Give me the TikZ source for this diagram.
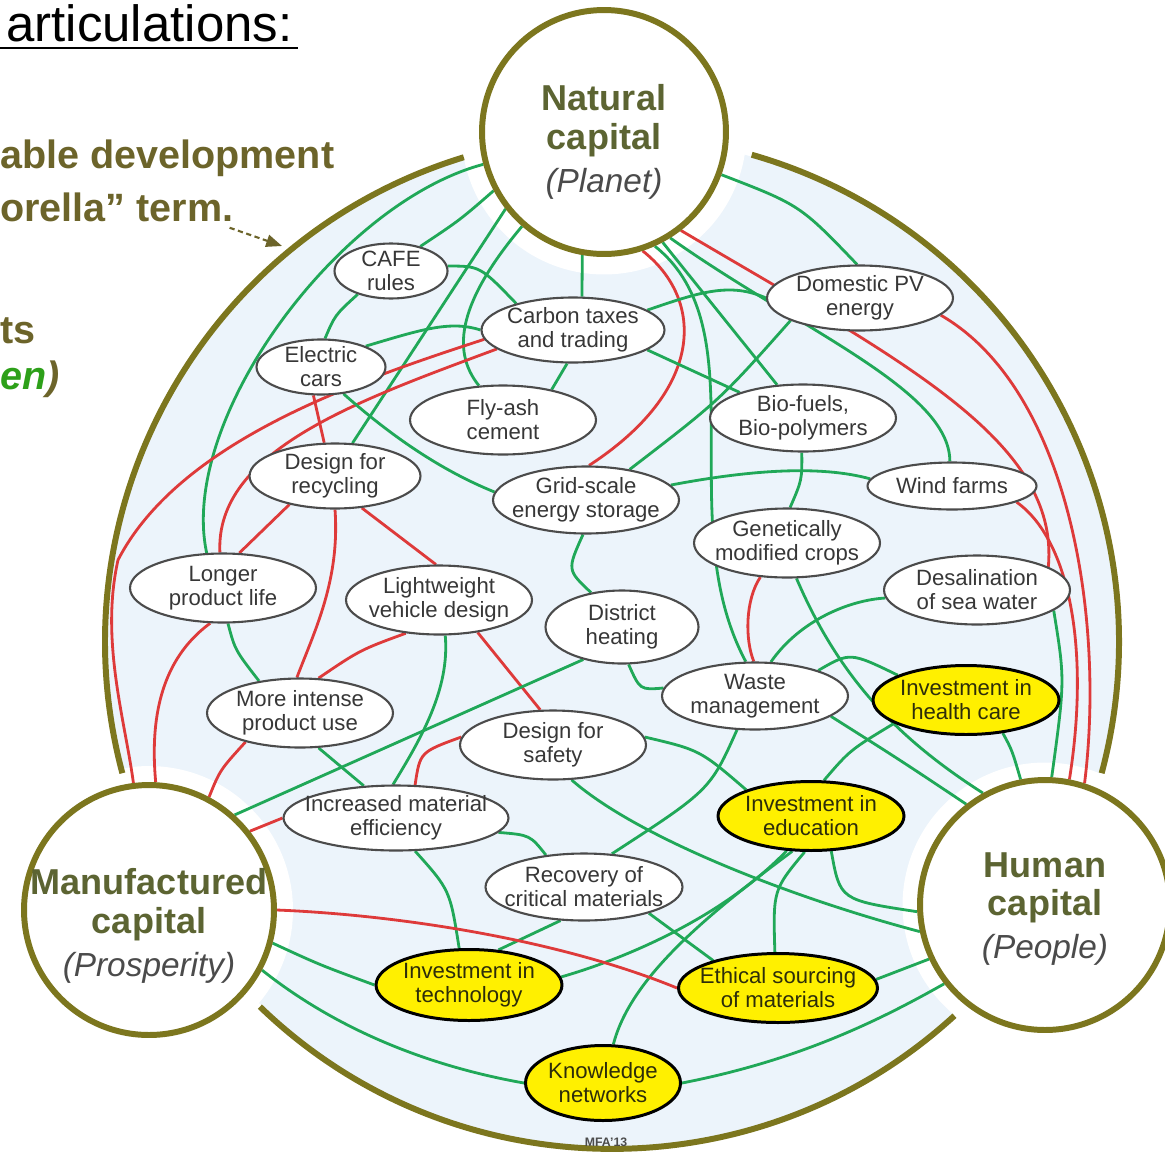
\documentclass[tikz,border=0pt]{standalone}
\usepackage{fontspec}
\setmainfont{Liberation Sans}
\usetikzlibrary{shapes.geometric,arrows.meta,calc}

\definecolor{ringolive}{RGB}{124,118,30}
\definecolor{captext}{RGB}{92,100,50}
\definecolor{subgray}{RGB}{75,75,75}
\definecolor{lgreen}{RGB}{32,168,88}
\definecolor{lred}{RGB}{222,58,58}
\definecolor{ellgray}{RGB}{75,75,75}
\definecolor{txtgray}{RGB}{55,55,55}
\definecolor{invyellow}{RGB}{255,240,0}
\definecolor{invtext}{RGB}{45,45,10}
\definecolor{bgblue}{RGB}{236,244,251}
\definecolor{headolive}{RGB}{108,100,42}
\definecolor{headgreen}{RGB}{45,160,25}

\pgfdeclarelayer{bg}
\pgfdeclarelayer{lines}
\pgfsetlayers{bg,lines,main}

\newcommand{\capsub}[1]{{\mdseries\itshape\fontsize{19}{21}\selectfont\color{subgray}#1}}

\begin{document}
\begin{tikzpicture}[x=0.02cm, y=-0.02cm,
		gl/.style={draw=lgreen, line width=1.6pt},
		rl/.style={draw=lred, line width=1.6pt},
		ell/.style={ellipse, draw=ellgray, line width=1.2pt, fill=white, inner sep=0pt, minimum width=3.72cm, minimum height=1.38cm},
		inv/.style={ell, draw=black, line width=1.7pt, fill=invyellow},
		lbl/.style={font=\fontsize{12.6}{13.6}\selectfont, text=txtgray, align=center, inner sep=0pt},
		ilbl/.style={lbl, text=invtext},
		capital/.style={circle, draw=ringolive, line width=3.4pt, fill=white, inner sep=0pt, minimum size=4.9cm},
		captxt/.style={font=\bfseries\fontsize{20.5}{22}\selectfont, text=captext, align=center, inner sep=0pt},
		ring/.style={draw=ringolive, line width=3.4pt},
		headline/.style={font=\bfseries\fontsize{22.5}{26}\selectfont, text=headolive, inner sep=0pt, anchor=base west},
		pointer/.style={draw=headolive, line width=1.2pt, dash pattern=on 3pt off 2pt, -{Triangle[length=9pt,width=7pt]}}]
	% \draw[very thin, gray, dashed](0,0)grid[step=50](1165,1156);
	\useasboundingbox (0,0) rectangle (1165,1156);

	\node[anchor=base west, inner sep=0pt, font=\fontsize{29}{32}\selectfont] (title) at (6,41) {articulations:};
	\draw[line width=1.2pt] (0,48)--(298,48);

	\node[headline] (sus) at (0,168) {able development};
	\node[headline] (umb) at (0,221) {orella” term.};
	\node[headline] (ts) at (0,343) {ts};
	\node[headline, font=\bfseries\itshape\fontsize{22.5}{26}\selectfont] (gr) at (0,389) {\textcolor{headgreen}{en})};
	\coordinate (arrtip) at (282,246);
	\draw[pointer] (umb.south east) ++(-4,6)--(arrtip);

	% the three capitals
	\node[capital, minimum size=4.88cm, label={[captxt, yshift=-0.2cm]center:{Natural\\capital\\[2.5pt]\capsub{(Planet)}}}] (nat) at (604,132) {};
	\node[capital, minimum size=5cm, label={[captxt, yshift=-0.32cm]center:{Manufactured\\capital\\[2.5pt]\capsub{(Prosperity)}}}] (man) at (149,910) {};
	\node[capital, minimum size=5cm, label={[captxt, yshift=-0.08cm]center:{Human\\capital\\[2.5pt]\capsub{(People)}}}] (hum) at (1045,905) {};

	% the articulations
	\node[ell, minimum width=2.26cm, minimum height=1.1cm, label={[lbl]center:{CAFE\\rules}}] (cafe) at (391,271) {};
	\node[ell, minimum width=3.66cm, minimum height=1.3cm, label={[lbl]center:{Carbon taxes\\and trading}}] (carbon) at (573,330) {};
	\node[ell, minimum height=1.3cm, label={[lbl]center:{Domestic PV\\energy}}] (pv) at (860,298) {};
	\node[ell, minimum width=2.58cm, minimum height=1.1cm, label={[lbl]center:{Electric\\cars}}] (ecar) at (321,367) {};
	\node[ell, label={[lbl]center:{Fly-ash\\cement}}] (flyash) at (503,420) {};
	\node[ell, minimum height=1.34cm, label={[lbl]center:{Bio-fuels,\\Bio-polymers}}] (biofuel) at (803,418) {};
	\node[ell, minimum width=3.42cm, minimum height=1.3cm, label={[lbl]center:{Design for\\recycling}}] (recyc) at (335,476) {};
	\node[ell, minimum height=1.34cm, label={[lbl]center:{Grid-scale\\energy storage}}] (grid) at (586,500) {};
	\node[ell, minimum width=3.38cm, minimum height=0.94cm, label={[lbl]center:{Wind farms}}] (wind) at (952,486) {};
	\node[ell, label={[lbl]center:{Genetically\\modified crops}}] (gmc) at (787,543) {};
	\node[ell, label={[lbl]center:{Longer\\product life}}] (longer) at (223,588) {};
	\node[ell, label={[lbl]center:{Lightweight\\vehicle design}}] (light) at (439,600) {};
	\node[ell, minimum width=3.06cm, minimum height=1.46cm, label={[lbl]center:{District\\heating}}] (district) at (622,627) {};
	\node[ell, label={[lbl]center:{Desalination\\of sea water}}] (desal) at (977,590) {};
	\node[ell, minimum height=1.34cm, label={[lbl]center:{Waste\\management}}] (waste) at (755,696) {};
	\node[inv, label={[ilbl]center:{Investment in\\health care}}] (health) at (966,700) {};
	\node[ell, label={[lbl]center:{More intense\\product use}}] (intense) at (300,713) {};
	\node[ell, label={[lbl]center:{Design for\\safety}}] (safety) at (553,745) {};
	\node[inv, label={[ilbl]center:{Investment in\\education}}] (edu) at (811,816) {};
	\node[ell, minimum width=4.5cm, minimum height=1.3cm, label={[lbl]center:{Increased material\\efficiency}}] (effic) at (396,818) {};
	\node[ell, minimum width=3.94cm, minimum height=1.34cm, label={[lbl]center:{Recovery of\\critical materials}}] (recov) at (584,887) {};
	\node[inv, minimum height=1.42cm, label={[ilbl]center:{Investment in\\technology}}] (tech) at (469,985) {};
	\node[inv, minimum width=3.98cm, label={[ilbl]center:{Ethical sourcing\\of materials}}] (ethic) at (778,988) {};
	\node[inv, minimum width=3.1cm, minimum height=1.5cm, label={[ilbl]center:{Knowledge\\networks}}] (know) at (603,1083) {};

	\node[inner sep=0pt, font=\bfseries\fontsize{7}{8}\selectfont, text=subgray] (mfa) at (606,1142) {MFA’13};

	\begin{pgfonlayer}{bg}
		\fill[bgblue] (612,642) circle[radius=10.1cm];
		\fill[white] (nat) circle[radius=2.85cm];
		\fill[white] (man) circle[radius=2.88cm];
		\fill[white] (hum) circle[radius=2.85cm];
		\draw[ring] ($(612,642)+(107:10.14cm)$) arc[start angle=107, end angle=195, radius=10.14cm];
		\draw[ring] ($(612,642)+(-15:10.14cm)$) arc[start angle=-15, end angle=74, radius=10.14cm];
		\draw[ring] ($(612,642)+(-134:10.14cm)$) arc[start angle=-134, end angle=-47.5, radius=10.14cm];
	\end{pgfonlayer}

	\begin{pgfonlayer}{lines}
		% natural capital
		\draw[gl] (nat.195) .. controls (338,203) and (178,420) .. (longer.115);
		\draw[gl] (nat.208) .. controls (460,220) .. (cafe.40);
		\draw[gl] (nat.218)--(recyc.62);
		\draw[gl] (nat.229) .. controls (460,300) and (450,350) .. (flyash.125);
		\draw[gl] (nat.260)--(carbon.75);
		\draw[rl] (nat.-72) .. controls (705,300) and (705,390) .. (grid.85);
		\draw[gl] (nat.-66) .. controls (760,330) and (670,520) .. (waste.105);
		\draw[gl] (nat.-62)--(biofuel.128);
		\draw[gl] (nat.-58) .. controls (800,330) and (950,390) .. (wind.95);
		\draw[rl] (nat.-52) .. controls (900,360) and (1060,440) .. (desal.18);
		\draw[gl] (nat.-20) .. controls (800,205) .. (pv.95);

		% right side into human capital
		\draw[rl] (pv.-12) .. controls (1070,390) and (1105,620) .. (hum.72);
		\draw[rl] (wind.-14) .. controls (1070,540) and (1090,650) .. (hum.79);
		\draw[gl] (desal.-15) .. controls (1065,680) .. (hum.87);
		\draw[gl] (health.-42) .. controls (1012,750) .. (hum.101);

		% carbon taxes, electric cars
		\draw[gl] (cafe.5) .. controls (480,266) .. (carbon.155);
		\draw[gl] (ecar.25) .. controls (420,330) and (450,320) .. (carbon.180);
		\draw[gl] (cafe.-145) .. controls (335,315) .. (ecar.82);
		\draw[gl] (carbon.-100)--(flyash.32);
		\draw[gl] (carbon.15) .. controls (700,292) and (730,282) .. (pv.180);
		\draw[gl] (carbon.-15)--(biofuel.158);
		\draw[rl] (carbon.194) .. controls (360,400) and (215,450) .. (longer.95);
		\draw[rl] (carbon.186) .. controls (360,380) and (180,440) .. (118,560) .. controls (100,640) and (125,720) .. (man.97);
		\draw[rl] (ecar.-105)--(recyc.108);
		\draw[gl] (ecar.-50) .. controls (390,435) and (440,470) .. (grid.175);

		% design for recycling, longer product life
		\draw[rl] (recyc.-148)--(longer.65);
		\draw[rl] (recyc.-90) .. controls (340,580) and (315,630) .. (intense.95);
		\draw[rl] (recyc.-50)--(light.95);
		\draw[rl] (longer.-110) .. controls (160,660) and (150,720) .. (man.87);
		\draw[gl] (longer.-82) .. controls (235,650) .. (intense.142);
		\draw[rl] (light.-135) .. controls (360,650) .. (intense.62);
		\draw[gl] (light.-80) .. controls (450,690) and (420,740) .. (effic.95);
		\draw[rl] (light.-40)--(safety.110);
		\draw[rl] (intense.-152) .. controls (220,770) .. (man.62);
		\draw[gl] (intense.-62)--(effic.135);
		\draw[rl] (safety.175) .. controls (420,752) .. (effic.60);
		\draw[rl] (effic.180)--(man.38);

		% grid, district heating, waste
		\draw[gl] (district.-140)--(man.48);
		\draw[gl] (grid.-95) .. controls (567,570) .. (district.132);
		\draw[gl] (district.-80) .. controls (640,690) .. (waste.175);
		\draw[gl] (grid.10) .. controls (750,470) and (820,465) .. (wind.175);
		\draw[gl] (pv.-162) .. controls (720,400) .. (grid.35);
		\draw[gl] (biofuel.-92) .. controls (802,480) .. (gmc.85);
		\draw[rl] (gmc.-128) .. controls (745,600) and (745,640) .. (waste.92);
		\draw[gl] (gmc.-75) .. controls (840,680) and (900,740) .. (hum.119);
		\draw[gl] (waste.-15) .. controls (900,760) .. (hum.128);
		\draw[gl] (waste.65) .. controls (800,620) and (850,600) .. (desal.185);
		\draw[gl] (waste.22) .. controls (850,652) .. (health.160);
		\draw[gl] (waste.-118) .. controls (710,790) .. (recov.50);

		% education and the yellow ones
		\draw[gl] (health.-162) .. controls (850,750) .. (edu.70);
		\draw[gl] (safety.5) .. controls (700,750) .. (edu.158);
		\draw[gl] (safety.-62) .. controls (640,840) and (800,900) .. (hum.192);
		\draw[gl] (edu.-60) .. controls (840,900) .. (hum.183);
		\draw[gl] (edu.-125) .. controls (720,920) and (620,960) .. (tech.5);
		\draw[gl] (edu.-118) .. controls (700,920) and (630,980) .. (know.75);
		\draw[gl] (edu.-100) .. controls (773,890) .. (ethic.95);
		\draw[gl] (recov.-22)--(ethic.157);
		\draw[gl] (recov.-125)--(tech.50);
		\draw[gl] (effic.-8) .. controls (530,835) .. (recov.140);
		\draw[gl] (effic.-60) .. controls (450,890) .. (tech.105);

		% manufactured capital
		\draw[rl] (man.0) .. controls (400,915) and (560,940) .. (ethic.180);
		\draw[gl] (man.-15) .. controls (320,965) .. (tech.180);
		\draw[gl] (man.-28) .. controls (350,1040) and (450,1070) .. (know.180);
		\draw[gl] (know.0) .. controls (800,1060) and (880,1020) .. (hum.218);
		\draw[gl] (ethic.5)--(hum.205);
	\end{pgfonlayer}
\end{tikzpicture}
\end{document}
